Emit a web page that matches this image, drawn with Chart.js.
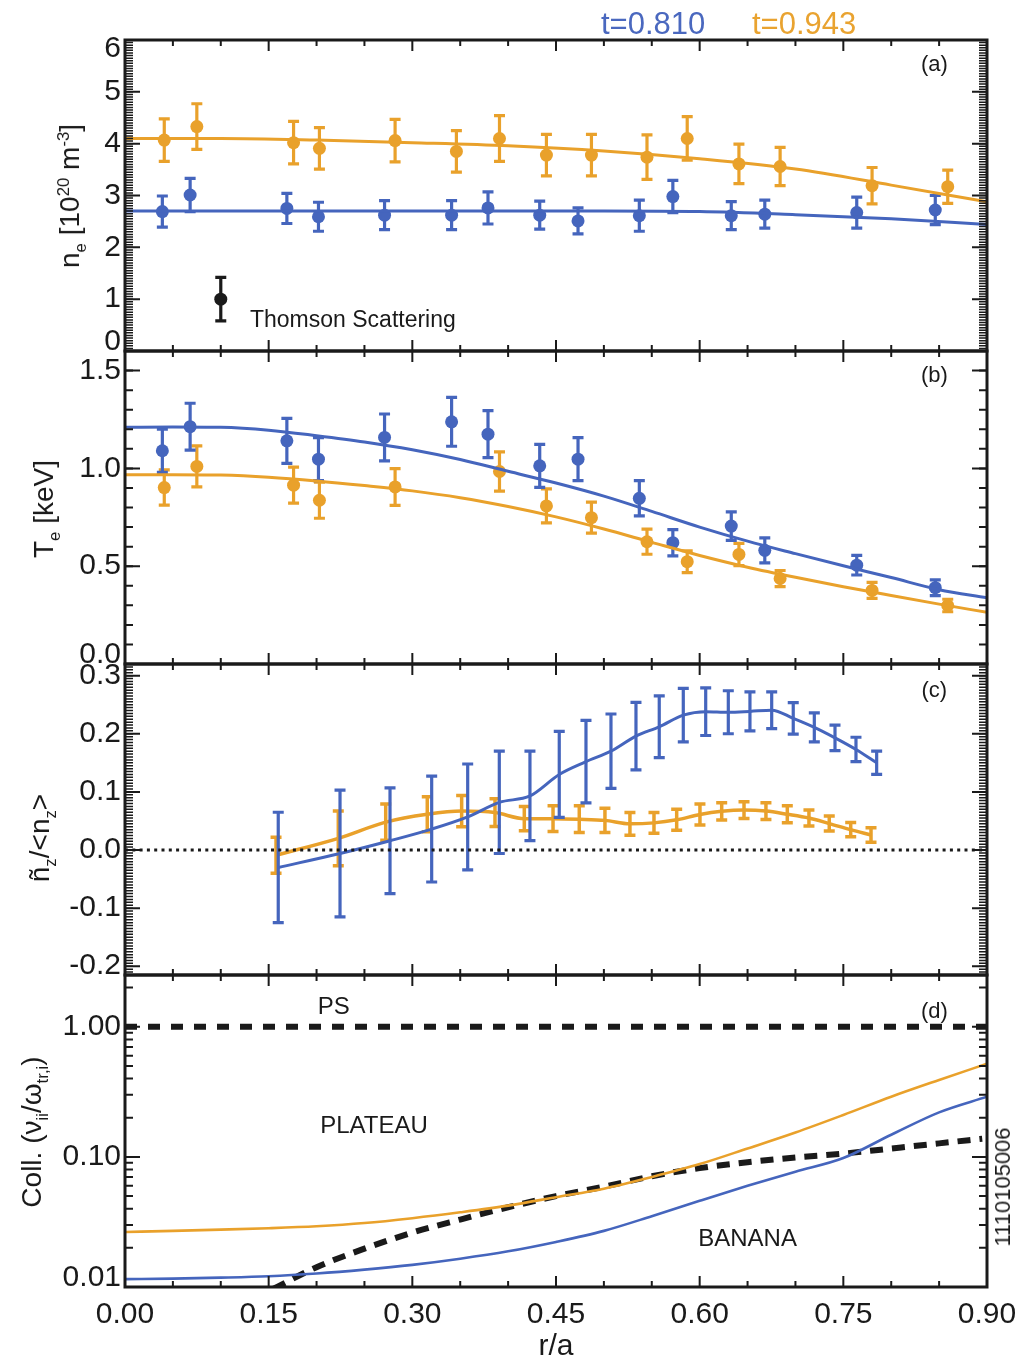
<!DOCTYPE html>
<html>
<head>
<meta charset="utf-8">
<script src="https://cdn.jsdelivr.net/npm/chart.js@4.4.0/dist/chart.umd.min.js"></script>
<style>
  body { margin: 0; background: #fff; width: 1021px; height: 1364px; position: relative; overflow: hidden;
         font-family: "Liberation Sans", Arial, Helvetica, sans-serif; color: #1a1a1a; }
  canvas { position: absolute; left: 0; top: 0; }
  .ytitle { position: absolute; transform: translate(-50%, -50%) rotate(-90deg); white-space: nowrap; font-size: 28px; }
  .ytitle sub, .ytitle sup { font-size: 60%; line-height: 0; }
  .legend { position: absolute; top: 6px; font-size: 31px; white-space: nowrap; }
</style>
</head>
<body>
<canvas id="pa" width="1021" height="1364"></canvas>
<canvas id="pb" width="1021" height="1364"></canvas>
<canvas id="pc" width="1021" height="1364"></canvas>
<canvas id="pd" width="1021" height="1364"></canvas>

<div class="legend" style="left:601px;color:#4a68bf">t=0.810</div>
<div class="legend" style="left:752px;color:#e9a330">t=0.943</div>

<div class="ytitle" style="left:70px;top:196px">n<sub>e</sub> [10<sup>20</sup> m<sup>-3</sup>]</div>
<div class="ytitle" style="left:44px;top:509px">T<sub>e</sub> [keV]</div>
<div class="ytitle" style="left:40px;top:838px">ñ<sub>z</sub>/&lt;n<sub>z</sub>&gt;</div>
<div class="ytitle" style="left:32px;top:1132px">Coll. (ν<sub>ii</sub>/ω<sub>tr,i</sub>)</div>
<div class="ytitle" style="left:1003px;top:1187px;font-size:22px">1110105006</div>

<script>
const ink = '#1a1a1a';
const blue = '#4565bd';
const orange = '#e9a12b';

// x axis (r/a)
const rTicks = [0, 0.15, 0.30, 0.45, 0.60, 0.75, 0.90];
const rTickLabels = ['0.00', '0.15', '0.30', '0.45', '0.60', '0.75', '0.90'];

// (a) electron density, Thomson scattering
const rBlue = [0.039, 0.068, 0.169, 0.202, 0.271, 0.341, 0.379, 0.433, 0.473, 0.537, 0.572, 0.633, 0.668, 0.764, 0.846];
const rOrange = [0.041, 0.075, 0.176, 0.203, 0.282, 0.346, 0.391, 0.440, 0.487, 0.545, 0.587, 0.641, 0.684, 0.780, 0.859];
const neBlue = [2.69, 3.01, 2.75, 2.59, 2.62, 2.62, 2.76, 2.62, 2.51, 2.61, 2.98, 2.61, 2.64, 2.67, 2.72];
const neBlueErr = [0.30, 0.32, 0.29, 0.28, 0.28, 0.28, 0.31, 0.27, 0.25, 0.30, 0.31, 0.27, 0.27, 0.30, 0.28];
const neOrange = [4.07, 4.33, 4.02, 3.91, 4.06, 3.85, 4.10, 3.78, 3.78, 3.74, 4.10, 3.61, 3.56, 3.19, 3.17];
const neOrangeErr = [0.41, 0.44, 0.41, 0.40, 0.41, 0.40, 0.44, 0.40, 0.40, 0.43, 0.42, 0.38, 0.37, 0.35, 0.32];
const rFitA = [0, 0.1, 0.2, 0.3, 0.4, 0.5, 0.6, 0.7, 0.8, 0.9];
const neBlueFit = [2.70, 2.70, 2.70, 2.70, 2.70, 2.70, 2.69, 2.63, 2.55, 2.44];
const neOrangeFit = [4.10, 4.10, 4.07, 4.02, 3.96, 3.86, 3.71, 3.51, 3.20, 2.88];
const neTicks = [0, 1, 2, 3, 4, 5, 6];
const neTickLabels = ['0', '1', '2', '3', '4', '5', '6'];

// (b) electron temperature
const teBlue = [1.09, 1.213, 1.141, 1.047, 1.158, 1.238, 1.175, 1.013, 1.047, 0.847, 0.620, 0.705, 0.581, 0.505, 0.390];
const teBlueErr = [0.11, 0.12, 0.115, 0.11, 0.12, 0.125, 0.12, 0.11, 0.11, 0.09, 0.067, 0.073, 0.064, 0.05, 0.04];
const teOrange = [0.902, 1.010, 0.914, 0.837, 0.905, null, 0.984, 0.808, 0.748, 0.625, 0.523, 0.560, 0.437, 0.376, 0.299];
const teOrangeErr = [0.09, 0.105, 0.092, 0.092, 0.094, null, 0.10, 0.087, 0.079, 0.064, 0.056, 0.057, 0.041, 0.041, 0.032];
const rFitB = [0, 0.05, 0.1, 0.15, 0.2, 0.25, 0.3, 0.35, 0.4, 0.45, 0.5, 0.55, 0.6, 0.65, 0.7, 0.75, 0.8, 0.85, 0.9];
const teBlueFit = [1.21, 1.212, 1.21, 1.195, 1.167, 1.135, 1.095, 1.045, 0.985, 0.925, 0.858, 0.78, 0.70, 0.628, 0.564, 0.502, 0.442, 0.38, 0.338];
const teOrangeFit = [0.967, 0.968, 0.966, 0.955, 0.936, 0.912, 0.885, 0.85, 0.805, 0.752, 0.69, 0.622, 0.555, 0.495, 0.443, 0.395, 0.35, 0.306, 0.264];
const teTicks = [0, 0.5, 1.0, 1.5];
const teTickLabels = ['0.0', '0.5', '1.0', '1.5'];

// (c) impurity density fluctuation
const rFlBlue = [0.160, 0.2245, 0.2767, 0.3202, 0.3578, 0.3908, 0.4228, 0.4534, 0.4813, 0.5074, 0.5335, 0.5578, 0.5829, 0.6063, 0.6299, 0.6525, 0.6752, 0.6977, 0.7197, 0.7413, 0.7632, 0.7848];
const flBlue = [-0.030, -0.006, 0.016, 0.036, 0.057, 0.082, 0.093, 0.130, 0.152, 0.170, 0.196, 0.212, 0.232, 0.238, 0.237, 0.2385, 0.2405, 0.2265, 0.211, 0.193, 0.173, 0.150];
const flBlueErr = [0.095, 0.109, 0.091, 0.091, 0.091, 0.088, 0.077, 0.074, 0.071, 0.064, 0.058, 0.053, 0.046, 0.041, 0.037, 0.0335, 0.0315, 0.027, 0.025, 0.022, 0.021, 0.020];
const rFlOrange = [0.1577, 0.2227, 0.2722, 0.3156, 0.3515, 0.3863, 0.4169, 0.4469, 0.4743, 0.5011, 0.5272, 0.5523, 0.5760, 0.6003, 0.6230, 0.6463, 0.6692, 0.6915, 0.7141, 0.7353, 0.7577, 0.7789];
const flOrange = [-0.009, 0.020, 0.048, 0.0615, 0.067, 0.0644, 0.054, 0.054, 0.053, 0.051, 0.045, 0.0467, 0.052, 0.061, 0.0665, 0.0687, 0.067, 0.0615, 0.055, 0.0455, 0.035, 0.0258];
const flOrangeErr = [0.031, 0.047, 0.031, 0.030, 0.027, 0.024, 0.021, 0.022, 0.023, 0.021, 0.0195, 0.018, 0.018, 0.018, 0.015, 0.0143, 0.0143, 0.0146, 0.0137, 0.0129, 0.0123, 0.0126];
const flTicks = [-0.2, -0.1, 0, 0.1, 0.2, 0.3];
const flTickLabels = ['-0.2', '-0.1', '0.0', '0.1', '0.2', '0.3'];

// (d) collisionality
const rColl = [0, 0.05, 0.1, 0.15, 0.2, 0.25, 0.3, 0.35, 0.4, 0.45, 0.5, 0.55, 0.6, 0.65, 0.7, 0.75, 0.8, 0.85, 0.9];
const collBlue = [0.0115, 0.0116, 0.0118, 0.0121, 0.0127, 0.0136, 0.0148, 0.0165, 0.0188, 0.0222, 0.027, 0.035, 0.046, 0.060, 0.077, 0.098, 0.148, 0.220, 0.290];
const collOrange = [0.0265, 0.027, 0.0276, 0.0283, 0.0293, 0.031, 0.0338, 0.0375, 0.0422, 0.049, 0.057, 0.070, 0.088, 0.116, 0.154, 0.21, 0.29, 0.39, 0.52];
const rBanana = [0.155, 0.2, 0.25, 0.3, 0.35, 0.4, 0.45, 0.5, 0.55, 0.6, 0.65, 0.7, 0.75, 0.8, 0.85, 0.895];
const bananaEdge = [0.0097, 0.0142, 0.0197, 0.0262, 0.033, 0.041, 0.050, 0.059, 0.071, 0.082, 0.091, 0.099, 0.106, 0.116, 0.127, 0.138];
const collTicks = [0.01, 0.1, 1];
const collTickLabels = ['0.01', '0.10', '1.00'];

const pts = (xs, ys) => xs.map((x, i) => ({ x: x, y: ys[i] }));
const tickFont = '30px "Liberation Sans", Arial, sans-serif';

// vertical error bars with caps, drawn under the markers
const errorBars = {
  id: 'errorBars',
  beforeDatasetDraw(chart, args) {
    const ds = chart.data.datasets[args.index];
    if (!ds.errors) return;
    const y = chart.scales.y;
    const ctx = chart.ctx;
    const cap = ds.capWidth || 5.5;
    ctx.save();
    ctx.strokeStyle = ds.errColor;
    ctx.lineWidth = ds.errWidth || 3.2;
    ctx.beginPath();
    args.meta.data.forEach((el, i) => {
      const e = ds.errors[i];
      const v = ds.data[i].y;
      if (e == null || v == null) return;
      const top = y.getPixelForValue(v + e);
      const bot = y.getPixelForValue(v - e);
      ctx.moveTo(el.x, top); ctx.lineTo(el.x, bot);
      ctx.moveTo(el.x - cap, top); ctx.lineTo(el.x + cap, top);
      ctx.moveTo(el.x - cap, bot); ctx.lineTo(el.x + cap, bot);
    });
    ctx.stroke();
    ctx.restore();
  }
};

// box, inward ticks on all four sides, tick labels and notes
const frame = {
  id: 'frame',
  afterDatasetsDraw(chart, args, opts) {
    const { ctx, chartArea: a } = chart;
    const x = chart.scales.x, y = chart.scales.y;
    ctx.save();
    ctx.strokeStyle = ink;
    ctx.lineWidth = 2;
    ctx.beginPath();
    for (let i = 0; i <= 18; i++) {
      const px = x.getPixelForValue(i * 0.05);
      const len = i % 3 === 0 ? 11 : 6;
      ctx.moveTo(px, a.top); ctx.lineTo(px, a.top + len);
      ctx.moveTo(px, a.bottom); ctx.lineTo(px, a.bottom - len);
    }
    opts.major.forEach(v => {
      const py = y.getPixelForValue(v);
      ctx.moveTo(a.left, py); ctx.lineTo(a.left + 15, py);
      ctx.moveTo(a.right, py); ctx.lineTo(a.right - 15, py);
    });
    ctx.stroke();
    ctx.lineWidth = opts.minorWidth || 2;
    ctx.beginPath();
    opts.minor.forEach(v => {
      const py = y.getPixelForValue(v);
      if (py < a.top + 1 || py > a.bottom - 1) return;
      ctx.moveTo(a.left, py); ctx.lineTo(a.left + 8, py);
      ctx.moveTo(a.right, py); ctx.lineTo(a.right - 8, py);
    });
    ctx.stroke();

    ctx.lineWidth = 3;
    ctx.strokeRect(a.left, a.top, a.right - a.left, a.bottom - a.top);

    ctx.fillStyle = ink;
    ctx.font = tickFont;
    ctx.textAlign = 'right';
    ctx.textBaseline = 'middle';
    opts.major.forEach((v, i) => {
      let py = y.getPixelForValue(v);
      py = Math.min(Math.max(py, a.top + 9), a.bottom - 9);
      ctx.fillText(opts.labels[i], a.left - 4, py);
    });
    if (opts.xAxis) {
      ctx.textAlign = 'center';
      rTicks.forEach((v, i) => ctx.fillText(rTickLabels[i], x.getPixelForValue(v), a.bottom + 28));
      ctx.fillText('r/a', (a.left + a.right) / 2, a.bottom + 60);
    }
    (opts.notes || []).forEach(n => {
      ctx.font = n.font;
      ctx.textAlign = n.align || 'center';
      ctx.fillText(n.text, x.getPixelForValue(n.x), y.getPixelForValue(n.y));
    });
    ctx.restore();
  }
};

function range(from, to, step) {
  const out = [];
  for (let v = from; v <= to + step / 2; v += step) out.push(+v.toFixed(4));
  return out;
}

function panel(id, top, bottom, yScale, datasets, frameOpts) {
  return new Chart(document.getElementById(id), {
    type: 'scatter',
    data: { datasets: datasets },
    options: {
      responsive: false,
      animation: false,
      devicePixelRatio: 1,
      events: [],
      layout: { padding: { left: 125, right: 34, top: top, bottom: 1364 - bottom } },
      scales: {
        x: { type: 'linear', min: 0, max: 0.9, display: false },
        y: Object.assign({ display: false }, yScale)
      },
      plugins: { legend: { display: false }, tooltip: { enabled: false }, frame: frameOpts }
    },
    plugins: [errorBars, frame]
  });
}

const fitLine = (xs, ys, color, w) => ({
  data: pts(xs, ys), showLine: true, borderColor: color, borderWidth: w,
  pointRadius: 0, cubicInterpolationMode: 'monotone'
});
const markers = (xs, ys, errs, color) => ({
  data: pts(xs, ys), errors: errs, errColor: color, showLine: false,
  pointRadius: 6.5, pointBorderWidth: 0, pointBackgroundColor: color
});
const labelFont = '22px "Liberation Sans", Arial, sans-serif';
const noteFont = '24px "Liberation Sans", Arial, sans-serif';

// (a)
panel('pa', 40, 351, { type: 'linear', min: 0, max: 6 }, [
  fitLine(rFitA, neBlueFit, blue, 3),
  fitLine(rFitA, neOrangeFit, orange, 3),
  markers(rBlue, neBlue, neBlueErr, blue),
  markers(rOrange, neOrange, neOrangeErr, orange),
  markers([0.10], [1.0], [0.42], ink)
], {
  major: neTicks, labels: neTickLabels, minor: range(0, 6, 0.05), minorWidth: 1.5,
  notes: [
    { text: '(a)', x: 0.845, y: 5.52, font: labelFont },
    { text: 'Thomson Scattering', x: 0.1305, y: 0.58, align: 'left', font: '23px "Liberation Sans", Arial, sans-serif' }
  ]
});

// (b)
panel('pb', 351, 664, { type: 'linear', min: 0, max: 1.6 }, [
  fitLine(rFitB, teBlueFit, blue, 3),
  fitLine(rFitB, teOrangeFit, orange, 3),
  markers(rBlue, teBlue, teBlueErr, blue),
  markers(rOrange, teOrange, teOrangeErr, orange)
], {
  major: teTicks, labels: teTickLabels, minor: range(0, 1.6, 0.1),
  notes: [{ text: '(b)', x: 0.845, y: 1.473, font: labelFont }]
});

// (c)
panel('pc', 664, 975, { type: 'linear', min: -0.215, max: 0.32 }, [
  { data: pts([0, 0.9], [0, 0]), showLine: true, borderColor: ink, borderWidth: 3, borderDash: [3, 4.3], pointRadius: 0 },
  Object.assign(fitLine(rFlBlue, flBlue, blue, 3), { errors: flBlueErr, errColor: blue }),
  Object.assign(fitLine(rFlOrange, flOrange, orange, 3.5), { errors: flOrangeErr, errColor: orange, errWidth: 3.5 })
], {
  major: flTicks, labels: flTickLabels, minor: range(-0.215, 0.32, 0.005).map(v => Math.round(v * 200) / 200), minorWidth: 1.5,
  notes: [{ text: '(c)', x: 0.845, y: 0.273, font: labelFont }]
});

// (d)
const logMinor = [];
[0.01, 0.1, 1].forEach(d => { for (let k = 2; k <= 9; k++) logMinor.push(k * d); });
panel('pd', 975, 1287, { type: 'logarithmic', min: 0.01, max: 2.5 }, [
  { data: pts([0, 0.9], [1, 1]), showLine: true, borderColor: ink, borderWidth: 6, borderDash: [12, 11], pointRadius: 0 },
  fitLine(rColl, collOrange, orange, 2.6),
  fitLine(rColl, collBlue, blue, 2.6),
  Object.assign(fitLine(rBanana, bananaEdge, ink, 6), { borderDash: [13, 9] })
], {
  major: collTicks, labels: collTickLabels, minor: logMinor, xAxis: true,
  notes: [
    { text: '(d)', x: 0.845, y: 1.31, font: labelFont },
    { text: 'PS', x: 0.218, y: 1.40, font: noteFont },
    { text: 'PLATEAU', x: 0.26, y: 0.171, font: noteFont },
    { text: 'BANANA', x: 0.65, y: 0.0231, font: noteFont }
  ]
});
</script>
</body>
</html>
